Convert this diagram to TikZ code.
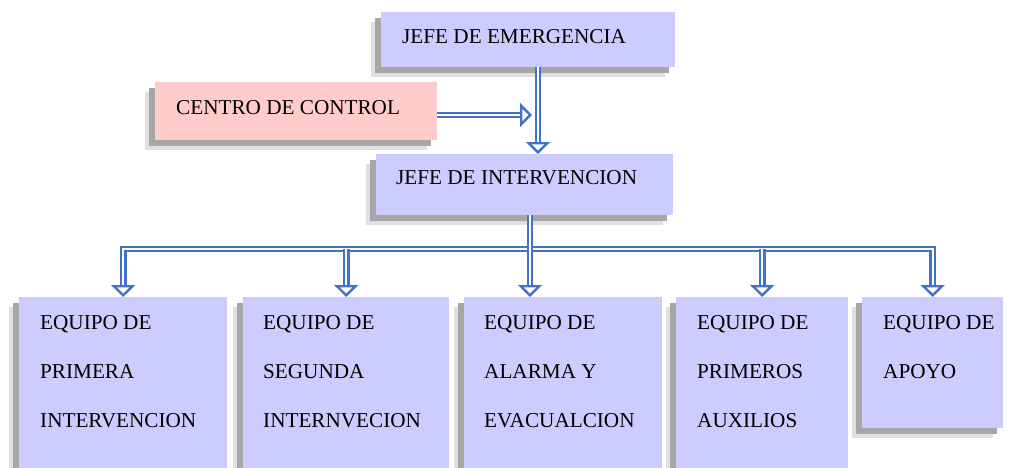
\documentclass[tikz,border=0pt]{standalone}
\usepackage{fontspec}
\setmainfont{Liberation Serif}
\usetikzlibrary{arrows.meta,shadows}
\definecolor{boxblue}{HTML}{CCCCFF}
\definecolor{boxpink}{HTML}{FFCCCC}
\definecolor{linkblue}{HTML}{4472C4}
\tikzset{
	box/.style={fill=boxblue, draw=none, anchor=north west, inner sep=0,
		drop shadow={shadow xshift=-10pt, shadow yshift=-10pt, fill=black!12, opacity=1},
		drop shadow={shadow xshift=-6pt, shadow yshift=-6pt, fill=black!35, opacity=1}},
	txt/.style={anchor=north west, inner sep=0, align=left, font=\fontsize{21.2}{49}\selectfont},
	link/.style={draw=linkblue, line width=2.1pt, double=white, double distance=2.4pt},
	>={Triangle[fill=white, length=12pt, width=24pt, line width=2.4pt]},
}
\begin{document}
\begin{tikzpicture}[x=1pt, y=-1pt]
	\useasboundingbox (0,0) rectangle (1013,467);
	% boxes
	\node[box, minimum width=294, minimum height=55] (je) at (381,12) {};
	\node[box, fill=boxpink, minimum width=282, minimum height=58] (cc) at (155,82) {};
	\node[box, minimum width=297, minimum height=61] (ji) at (376,154) {};
	\node[box, minimum width=208, minimum height=200] (e1) at (19,297) {};
	\node[box, minimum width=206, minimum height=200] (e2) at (243,297) {};
	\node[box, minimum width=198, minimum height=200] (e3) at (464,297) {};
	\node[box, minimum width=172, minimum height=200] (e4) at (676,297) {};
	\node[box, minimum width=141, minimum height=131] (e5) at (862,297) {};
	% texts
	\node[txt] (tje) at ([xshift=21pt, yshift=-17pt]je.north west) {JEFE DE EMERGENCIA};
	\node[txt] (tcc) at ([xshift=21pt, yshift=-18pt]cc.north west) {CENTRO DE CONTROL};
	\node[txt] (tji) at ([xshift=20pt, yshift=-16pt]ji.north west) {JEFE DE INTERVENCION};
	\node[txt] (te1) at ([xshift=21pt, yshift=-18pt]e1.north west) {EQUIPO DE\\PRIMERA\\INTERVENCION};
	\node[txt] (te2) at ([xshift=20pt, yshift=-18pt]e2.north west) {EQUIPO DE\\SEGUNDA\\INTERNVECION};
	\node[txt] (te3) at ([xshift=20pt, yshift=-18pt]e3.north west) {EQUIPO DE\\ALARMA Y\\EVACUALCION};
	\node[txt] (te4) at ([xshift=21pt, yshift=-18pt]e4.north west) {EQUIPO DE\\PRIMEROS\\AUXILIOS};
	\node[txt] (te5) at ([xshift=21pt, yshift=-18pt]e5.north west) {EQUIPO DE\\APOYO};
	% links
	\coordinate (down) at (538,0);
	\coordinate (join) at (532,115);
	\coordinate (hub) at (530,249);
	\draw[link, ->] (je.south -| down) -- (ji.north -| down);
	\draw[link, ->] (cc.east |- join) -- (join);
	\draw[link, <->] (e1.north) -- (e1.north |- hub) -- (e5.north |- hub) -- (e5.north);
	\draw[link, ->] (e2.north |- hub) -- (e2.north);
	\draw[link, ->] (e4.north |- hub) -- (e4.north);
	\draw[link, ->] (hub |- ji.south) -- (hub |- e3.north);
\end{tikzpicture}
\end{document}
